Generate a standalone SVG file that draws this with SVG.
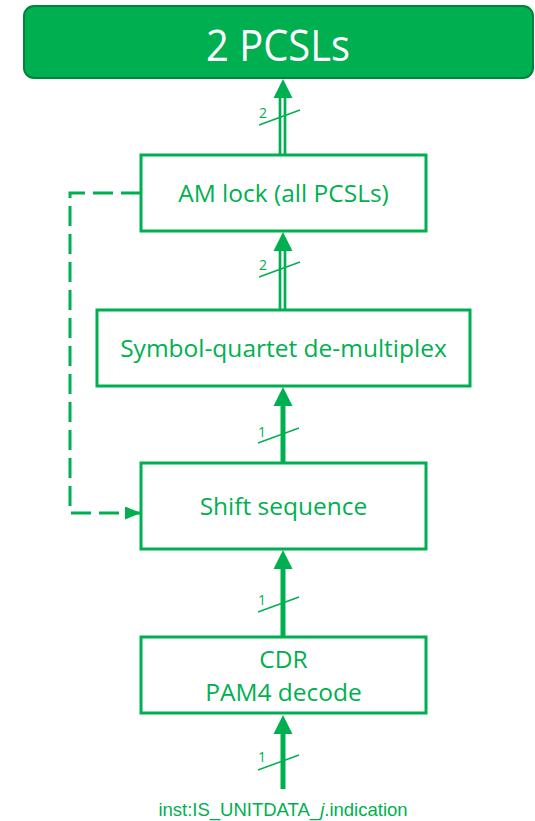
<svg xmlns="http://www.w3.org/2000/svg" xmlns:xlink="http://www.w3.org/1999/xlink" width="535" height="821" viewBox="0 0 535 821">
  <style>
    .box { fill: #ffffff; stroke: #00b050; stroke-width: 3; }
    .title-box { fill: #00b050; stroke: #00843c; stroke-width: 2; }
    .lbl { font-family: "Open Sans", "Noto Sans", sans-serif; font-size: 24.5px; fill: #00b050; text-anchor: middle; }
    .title { font-family: "Open Sans", "Noto Sans", sans-serif; font-size: 44px; fill: #ffffff; text-anchor: middle; }
    .shaft { stroke: #00b050; stroke-width: 5; fill: none; }
    .shaft2 { stroke: #00b050; stroke-width: 2.7; fill: none; }
    .slash { stroke: #00b050; stroke-width: 1.5; }
    .count { font-family: "Open Sans", "Noto Sans", sans-serif; font-size: 14px; fill: #00b050; }
    .dash { stroke: #00b050; stroke-width: 3; fill: none; stroke-dasharray: 20 8; }
    .io { font-family: "Liberation Sans", Arial, sans-serif; font-size: 18.5px; fill: #00b050; text-anchor: middle; }
  </style>
  <defs>
    <!-- upward arrowhead, tip at origin -->
    <polygon id="head" points="0,0 -9.5,19 9.5,19" fill="#00b050"/>
    <!-- bus-width tick across a connector -->
    <line id="tick" x1="0" y1="0" x2="41" y2="-15" class="slash"/>
    <!-- small arrowhead for the dashed control path -->
    <marker id="dashHead" markerUnits="userSpaceOnUse" markerWidth="16" markerHeight="13" refX="16" refY="6.5" orient="auto">
      <path d="M0,0 L16,6.5 L0,13 z" fill="#00b050"/>
    </marker>
  </defs>

  <g id="pcsls">
    <rect class="title-box" x="24" y="6" width="509" height="72" rx="10"/>
    <text class="title" x="278" y="61" textLength="144" lengthAdjust="spacingAndGlyphs">2 PCSLs</text>
  </g>

  <g id="am-lock">
    <rect class="box" x="141" y="155" width="285" height="76"/>
    <text class="lbl" x="283.5" y="202">AM lock (all PCSLs)</text>
  </g>

  <g id="demux">
    <rect class="box" x="97" y="310" width="373" height="76"/>
    <text class="lbl" x="283.5" y="357">Symbol-quartet de-multiplex</text>
  </g>

  <g id="shift">
    <rect class="box" x="141" y="463" width="285" height="86"/>
    <text class="lbl" x="283.5" y="515">Shift sequence</text>
  </g>

  <g id="cdr">
    <rect class="box" x="141" y="637" width="285" height="76"/>
    <text class="lbl" x="283.5" y="668">CDR</text>
    <text class="lbl" x="283.5" y="701">PAM4 decode</text>
  </g>

  <g id="connectors">
    <!-- AM lock to PCSLs: 2 lanes -->
    <line class="shaft2" x1="280" y1="155" x2="280" y2="96"/>
    <line class="shaft2" x1="285" y1="155" x2="285" y2="96"/>
    <use xlink:href="#head" x="283" y="79"/>
    <use xlink:href="#tick" x="259" y="125"/>
    <text class="count" x="259" y="118">2</text>

    <!-- de-multiplex to AM lock: 2 lanes -->
    <line class="shaft2" x1="280" y1="310" x2="280" y2="249"/>
    <line class="shaft2" x1="285" y1="310" x2="285" y2="249"/>
    <use xlink:href="#head" x="283" y="232"/>
    <use xlink:href="#tick" x="259" y="277"/>
    <text class="count" x="259" y="270">2</text>

    <!-- shift sequence to de-multiplex -->
    <line class="shaft" x1="283" y1="463" x2="283" y2="403"/>
    <use xlink:href="#head" x="283" y="387"/>
    <use xlink:href="#tick" x="258" y="443"/>
    <text class="count" x="258" y="437">1</text>

    <!-- CDR to shift sequence -->
    <line class="shaft" x1="283" y1="637" x2="283" y2="566"/>
    <use xlink:href="#head" x="283" y="550"/>
    <use xlink:href="#tick" x="258" y="612"/>
    <text class="count" x="258" y="605">1</text>

    <!-- input to CDR -->
    <line class="shaft" x1="283" y1="789" x2="283" y2="731"/>
    <use xlink:href="#head" x="283" y="715"/>
    <use xlink:href="#tick" x="258" y="770"/>
    <text class="count" x="258" y="762">1</text>

    <!-- lock feedback to shift sequence -->
    <path class="dash" d="M141,193 H70 V513 H141" marker-end="url(#dashHead)"/>
  </g>

  <g id="input">
    <text class="io" x="283" y="816">inst:IS_UNITDATA_<tspan font-style="italic">j</tspan>.indication</text>
  </g>
</svg>
